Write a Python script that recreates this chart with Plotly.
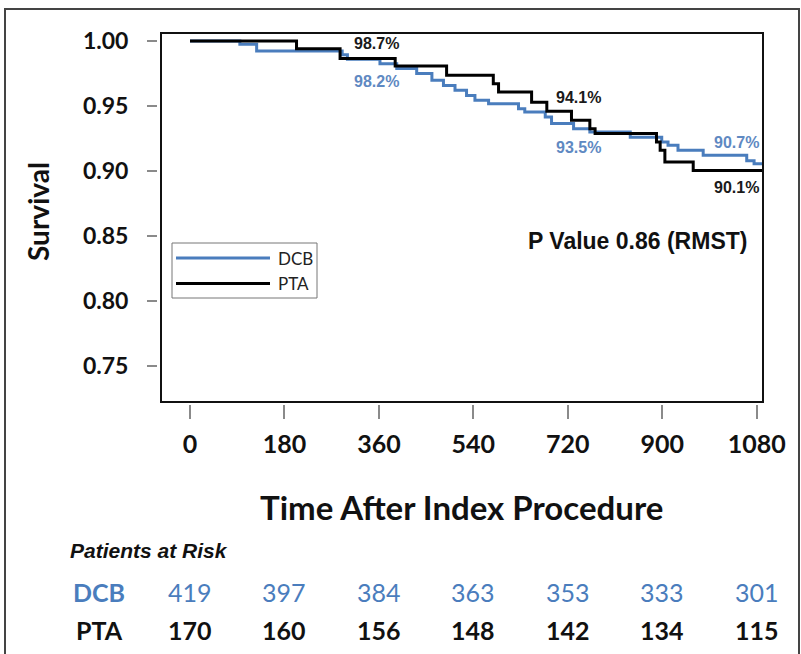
import plotly.graph_objects as go

# ---------------- data ----------------
dcb_t = [0, 95, 127, 290, 300, 362, 394, 432, 461, 483, 505, 527, 543, 569, 626, 638, 677, 689,
         731, 762, 839, 899, 911, 930, 978, 1061, 1075, 1095]
dcb_s = [1.0, 0.9976, 0.9923, 0.9895, 0.986, 0.9826, 0.9788, 0.975, 0.9698, 0.9659, 0.9621, 0.9582,
         0.9544, 0.9518, 0.948, 0.9454, 0.9415, 0.9365, 0.9326, 0.930, 0.926, 0.9223, 0.9198, 0.916,
         0.9121, 0.908, 0.9057, 0.9057]
pta_t = [0, 203, 286, 391, 489, 578, 588, 651, 680, 727, 762, 772, 889, 896, 905, 959, 1095]
pta_s = [1.0, 0.9941, 0.9865, 0.9808, 0.9736, 0.9672, 0.9608, 0.953, 0.946, 0.939, 0.9326, 0.9288,
         0.9223, 0.9159, 0.9069, 0.9005, 0.9005]

x_ticks = [0, 180, 360, 540, 720, 900, 1080]
y_ticks = [0.75, 0.80, 0.85, 0.90, 0.95, 1.00]
risk_dcb = [419, 397, 384, 363, 353, 333, 301]
risk_pta = [170, 160, 156, 148, 142, 134, 115]

# KM labels: (time, value text)
km_labels_dcb = [(360, "98.2%"), (720, "93.5%"), (1080, "90.7%")]
km_labels_pta = [(360, "98.7%"), (720, "94.1%"), (1080, "90.1%")]

BLUE = "#4a7dbd"
BLUE_TXT = "#5f89c2"
BLACK = "#000000"

# ---------------- layout geometry (pixels) ----------------
W, H = 801, 654
L, R, T, B = 157, 763, 33, 404


def px(x):
    return (x - L) / (R - L)


def py(y):
    return (B - y) / (B - T)


fig = go.Figure()
fig.add_trace(go.Scatter(x=dcb_t, y=dcb_s, mode="lines", line=dict(color=BLUE, width=3, shape="hv"),
                         name="DCB", showlegend=False))
fig.add_trace(go.Scatter(x=pta_t, y=pta_s, mode="lines", line=dict(color=BLACK, width=3, shape="hv"),
                         name="PTA", showlegend=False))

fig.update_layout(
    width=W, height=H,
    margin=dict(l=L, r=W - R, t=T, b=H - B, pad=0),
    paper_bgcolor="white", plot_bgcolor="white",
    xaxis=dict(domain=[px(161), 1], range=[-55.3, 1092], tickvals=x_ticks,
               ticktext=[str(v) for v in x_ticks], ticks="outside", ticklen=14, tickwidth=1.5,
               tickcolor="#8a8a8a", anchor="free", position=0, showline=False, showgrid=False,
               zeroline=False, tickfont=dict(family="Lato", size=25, color="#111", weight="bold"),
               ticklabelstandoff=4),
    yaxis=dict(domain=[py(402), 1], range=[0.7223, 1.0062], tickvals=y_ticks,
               ticktext=["%.2f" % v for v in y_ticks], ticks="outside", ticklen=10, tickwidth=1.5,
               tickcolor="#8a8a8a", anchor="free", position=0, showline=False, showgrid=False,
               zeroline=False, tickfont=dict(family="Lato", size=23, color="#111", weight="bold"),
               ticklabelstandoff=14),
)

shapes = []
# plot box
shapes.append(dict(type="rect", xref="x domain", yref="y domain", x0=0, x1=1, y0=0, y1=1,
                   line=dict(color="#111", width=2), layer="above"))
# outer frame
shapes.append(dict(type="rect", xref="paper", yref="paper", x0=px(5), x1=px(799), y0=py(680), y1=py(9),
                   line=dict(color="#444", width=2), layer="below"))
# custom legend
shapes.append(dict(type="rect", xref="paper", yref="paper", x0=px(172), x1=px(317), y0=py(298), y1=py(243),
                   line=dict(color="#777", width=1), fillcolor="white"))
shapes.append(dict(type="line", xref="paper", yref="paper", x0=px(176), x1=px(270), y0=py(258), y1=py(258),
                   line=dict(color=BLUE, width=3)))
shapes.append(dict(type="line", xref="paper", yref="paper", x0=px(176), x1=px(270), y0=py(283.5), y1=py(283.5),
                   line=dict(color=BLACK, width=3)))
fig.update_layout(shapes=shapes)

ann = []
legfont = dict(family="Lato", size=17, color="#222")
ann.append(dict(text="DCB", xref="paper", yref="paper", x=px(276), y=py(258), xanchor="left", yanchor="middle",
                showarrow=False, font=legfont))
ann.append(dict(text="PTA", xref="paper", yref="paper", x=px(276), y=py(283.5), xanchor="left", yanchor="middle",
                showarrow=False, font=legfont))

# KM percent labels
lab_font = dict(family="Liberation Sans", size=16, weight="bold")
pos_pta = {360: (376, 44, "center"), 720: (578, 97, "center"), 1080: (761, 188, "right")}
pos_dcb = {360: (376, 82, "center"), 720: (578, 147, "center"), 1080: (761, 142, "right")}
for t, txt in km_labels_pta:
    x, y, a = pos_pta[t]
    ann.append(dict(text=txt, xref="paper", yref="paper", x=px(x), y=py(y), xanchor=a, yanchor="middle",
                    showarrow=False, font=dict(lab_font, color="#1a1a1a")))
for t, txt in km_labels_dcb:
    x, y, a = pos_dcb[t]
    ann.append(dict(text=txt, xref="paper", yref="paper", x=px(x), y=py(y), xanchor=a, yanchor="middle",
                    showarrow=False, font=dict(lab_font, color=BLUE_TXT)))

ann.append(dict(text="P Value 0.86 (RMST)", xref="paper", yref="paper", x=px(637), y=py(241),
                xanchor="center", yanchor="middle", showarrow=False,
                font=dict(family="Liberation Sans", size=23, weight="bold", color="#111")))

# axis titles
ann.append(dict(text="Survival", xref="paper", yref="paper", x=px(38), y=py(212), textangle=-90,
                xanchor="center", yanchor="middle", showarrow=False,
                font=dict(family="Lato", size=28, weight="bold", color="#111")))
ann.append(dict(text="Time After Index Procedure", xref="paper", yref="paper", x=px(461), y=py(507),
                xanchor="center", yanchor="middle", showarrow=False,
                font=dict(family="Lato", size=33, weight="bold", color="#111")))

# patients at risk
ann.append(dict(text="<i>Patients at Risk</i>", xref="paper", yref="paper", x=px(68), y=py(550),
                xanchor="left", yanchor="middle", showarrow=False,
                font=dict(family="Liberation Sans", size=21, weight="bold", color="#111")))
ann.append(dict(text="DCB", xref="paper", yref="paper", x=px(99), y=py(592), xanchor="center",
                yanchor="middle", showarrow=False,
                font=dict(family="Lato", size=25, weight="bold", color=BLUE)))
ann.append(dict(text="PTA", xref="paper", yref="paper", x=px(99), y=py(630), xanchor="center",
                yanchor="middle", showarrow=False,
                font=dict(family="Lato", size=25, weight="bold", color="#111")))
for t, n in zip(x_ticks, risk_dcb):
    ann.append(dict(text=str(n), xref="x", yref="paper", x=t, y=py(592), xanchor="center", yanchor="middle",
                    showarrow=False, font=dict(family="Lato", size=25, color=BLUE)))
for t, n in zip(x_ticks, risk_pta):
    ann.append(dict(text=str(n), xref="x", yref="paper", x=t, y=py(630), xanchor="center", yanchor="middle",
                    showarrow=False, font=dict(family="Lato", size=25, weight="bold", color="#111")))

fig.update_layout(annotations=ann)
fig.write_html("out.html")
